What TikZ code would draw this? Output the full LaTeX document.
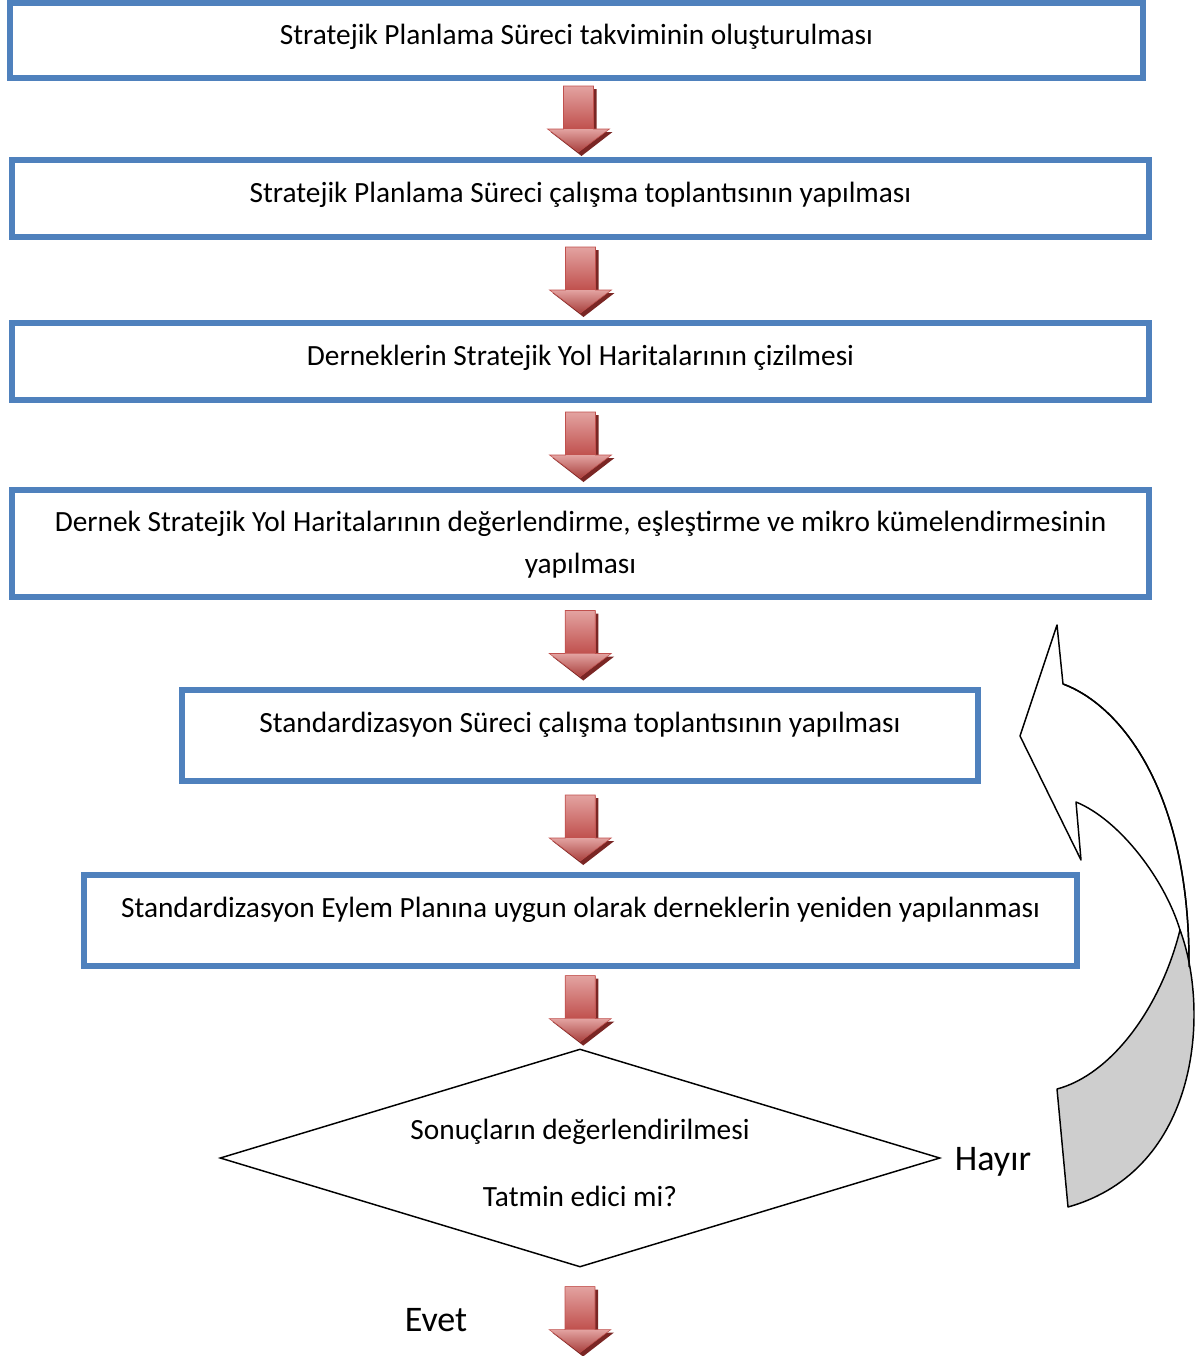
\documentclass[tikz,border=0pt]{standalone}
\usepackage{fontspec}
\setmainfont{Carlito}
\usepackage{tikz}
\usetikzlibrary{shapes,arrows,positioning,calc}
\definecolor{boxblue}{HTML}{4F81BD}
\definecolor{arrlight}{HTML}{E3A3A1}
\definecolor{arrmid}{HTML}{C0504D}
\definecolor{arrdark}{HTML}{A8403D}
\definecolor{arrshadow}{HTML}{7A2624}
\definecolor{bendgray}{HTML}{CECECE}
\def\pxl{0.75pt}
\tikzset{block/.style={draw=boxblue, line width=4.5pt, rectangle, align=center,
		text depth=9pt, font=\fontsize{22}{31.5}\selectfont},
	raised/.style={text depth=20.5pt},
	decision/.style={draw, line width=1.1pt, diamond, aspect=3.3, inner sep=0pt,
		align=center, font=\fontsize{22}{31.5}\selectfont},
	answer/.style={font=\fontsize{27}{32}\selectfont},
	returnarrow/.style={draw, line width=1.1pt, line join=round},
	downarrow/.pic={
		\fill[arrshadow] (-12,-30) -- (18,-30) -- (18,13) -- (34,13) -- (3,37) -- (-28,13) -- (-12,13) -- cycle;
		\shade[top color=arrlight, bottom color=arrmid] (-15,-33) rectangle (15,10);
		\shade[top color=arrlight, bottom color=arrdark] (-31,10) -- (31,10) -- (0,33) -- cycle;
		\draw[arrmid, line width=0.4pt] (-15,-33) -- (15,-33) -- (15,10) -- (31,10) -- (0,33) -- (-31,10) -- (-15,10) -- cycle;
	}}
\begin{document}
\begin{tikzpicture}[x=0.75pt, y=-0.75pt]
	\useasboundingbox (0,0) rectangle (1199,1356);
	% process steps
	\node[block, minimum width=1133*\pxl, minimum height=75*\pxl] (takvim) at (576.5,40.5)
		{Stratejik Planlama Süreci takviminin oluşturulması};
	\node[block, minimum width=1137*\pxl, minimum height=77*\pxl] (calisma) at (580.5,198.5)
		{Stratejik Planlama Süreci çalışma toplantısının yapılması};
	\node[block, minimum width=1137*\pxl, minimum height=77*\pxl] (harita) at (580.5,361.5)
		{Derneklerin Stratejik Yol Haritalarının çizilmesi};
	\node[block, text depth=2pt, minimum width=1137*\pxl, minimum height=107*\pxl] (kume) at (580.5,543.5)
		{Dernek Stratejik Yol Haritalarının değerlendirme, eşleştirme ve mikro kümelendirmesinin\\yapılması};
	\node[block, raised, minimum width=796*\pxl, minimum height=91*\pxl] (standart) at (580,735.5)
		{Standardizasyon Süreci çalışma toplantısının yapılması};
	\node[block, raised, minimum width=993*\pxl, minimum height=91*\pxl] (eylem) at (580.5,920.5)
		{Standardizasyon Eylem Planına uygun olarak derneklerin yeniden yapılanması};
	\node[decision, minimum width=720*\pxl, minimum height=218*\pxl] (sonuc) at (580,1158)
		{\rule{0pt}{22.5pt}Sonuçların değerlendirilmesi\\[18.75pt]Tatmin edici mi?};
	\node[answer] (hayir) at (993,1162) {Hayır};
	\node[answer] (evet) at (436,1320) {Evet};
	\coordinate (son) at (580,1319.5);

	% arrows between steps
	\pic at ($(takvim.south)!0.5!(calisma.north)$) {downarrow};
	\pic at ($(calisma.south)!0.5!(harita.north)$) {downarrow};
	\pic at ($(harita.south)!0.5!(kume.north)$) {downarrow};
	\pic at ($(kume.south)!0.5!(standart.north)$) {downarrow};
	\pic at ($(standart.south)!0.5!(eylem.north)$) {downarrow};
	\pic at ($(eylem.south)!0.5!(sonuc.north)$) {downarrow};
	\pic at (son) {downarrow};

	% return arrow
	\filldraw[returnarrow, fill=white] (1057,625) -- (1063,684) .. controls (1120,705) and (1190,790) .. (1189,967)
		-- (1180,930) .. controls (1165,880) and (1120,820) .. (1076,802) -- (1081,860) -- (1020,736) -- cycle;
	\filldraw[returnarrow, fill=bendgray] (1180,930) .. controls (1210,1010) and (1200,1170) .. (1068,1207)
		-- (1057,1089) .. controls (1110,1075) and (1160,1010) .. (1180,930) -- cycle;
	\draw[returnarrow] (1063,684) .. controls (1120,705) and (1190,790) .. (1189,967);
\end{tikzpicture}
\end{document}
